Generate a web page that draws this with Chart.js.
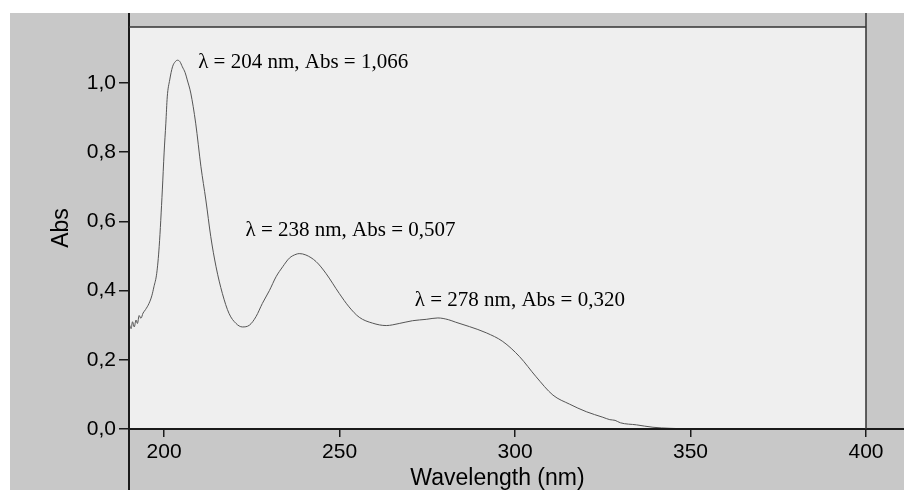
<!DOCTYPE html>
<html>
<head>
<meta charset="utf-8">
<script src="https://cdn.jsdelivr.net/npm/chart.js@4"></script>
<style>
  html, body { margin: 0; padding: 0; background: #ffffff; }
  #wrap { width: 904px; height: 490px; }
</style>
</head>
<body>
<div id="wrap"><canvas id="c" width="904" height="490"></canvas></div>
<script>
// ---- data ----
const wavelengths = [
  190.2, 190.6, 191.0, 191.5, 192.0, 192.4, 192.9, 193.4, 194.0, 194.7,
  195.7, 196.5, 197.1, 197.9, 198.6, 199.5, 200.0, 200.5, 200.9, 201.6,
  202.4, 203.2, 203.8, 204.5, 205.2, 206.0, 206.6, 207.6, 209.0, 210.5,
  211.9, 213.3, 214.8, 216.6, 218.5, 220.5, 222.3, 224.3, 226.2, 228.0,
  230.0, 231.9, 233.8, 235.7, 237.6, 238.5, 240.4, 243.3, 246.1, 249.9,
  252.7, 255.6, 259.4, 263.3, 267.0, 270.8, 274.7, 278.0, 281.0, 283.0,
  287.0, 291.8, 296.5, 301.3, 306.0, 310.8, 315.5, 320.3, 325.0, 327.0,
  328.5, 330.0, 334.6, 339.3, 344.1, 350.0
];
const absorbance = [
  0.300, 0.290, 0.310, 0.295, 0.315, 0.305, 0.328, 0.320, 0.335, 0.345,
  0.363, 0.385, 0.411, 0.450, 0.527, 0.691, 0.798, 0.884, 0.960, 1.009,
  1.047, 1.062, 1.066, 1.062, 1.047, 1.030, 1.009, 0.971, 0.884, 0.758,
  0.662, 0.556, 0.469, 0.392, 0.334, 0.305, 0.295, 0.300, 0.325, 0.363,
  0.400, 0.440, 0.469, 0.494, 0.505, 0.507, 0.503, 0.484, 0.450, 0.392,
  0.353, 0.323, 0.306, 0.299, 0.305, 0.313, 0.317, 0.321, 0.316, 0.309,
  0.296, 0.278, 0.253, 0.209, 0.151, 0.098, 0.072, 0.050, 0.034, 0.027,
  0.025, 0.018, 0.012, 0.005, 0.002, 0.000
];
const xTicks = [200, 250, 300, 350, 400];
const yTicks = [0.0, 0.2, 0.4, 0.6, 0.8, 1.0];
const peakNm = [204, 238, 278];
const peakAbs = [1.066, 0.507, 0.320];
const xTitle = 'Wavelength (nm)';
const yTitle = 'Abs';

const fmt = (v, d) => v.toFixed(d).replace('.', ',');
const peakLabels = peakNm.map((nm, i) => 'λ = ' + nm + ' nm, Abs = ' + fmt(peakAbs[i], 3));

const points = wavelengths.map((w, i) => ({ x: w, y: absorbance[i] }));

const framePlugin = {
  id: 'frame',
  beforeDraw(chart) {
    const { ctx, chartArea: a, width, height } = chart;
    ctx.save();
    ctx.fillStyle = '#ffffff';
    ctx.fillRect(0, 0, width, height);
    ctx.fillStyle = '#c8c8c8';
    ctx.fillRect(10, 13, width - 10, height - 13);
    ctx.fillStyle = '#efefef';
    ctx.fillRect(a.left, a.top, a.right - a.left, a.bottom - a.top);
    ctx.restore();
  },
  afterDraw(chart) {
    const { ctx, chartArea: a, width, height } = chart;
    ctx.save();
    ctx.strokeStyle = '#1a1a1a';
    ctx.lineWidth = 2;
    ctx.beginPath();
    ctx.moveTo(a.left, 13); ctx.lineTo(a.left, height);
    ctx.moveTo(a.left, a.bottom); ctx.lineTo(width, a.bottom);
    ctx.stroke();
    ctx.lineWidth = 1.5;
    ctx.strokeStyle = '#333';
    ctx.beginPath();
    ctx.moveTo(a.left, a.top); ctx.lineTo(a.right, a.top);
    ctx.moveTo(a.right, 13); ctx.lineTo(a.right, a.bottom);
    ctx.stroke();
    // peak annotations
    const xs = chart.scales.x, ys = chart.scales.y;
    const offs = [[20, 2], [-52, -23], [-23, -18]];
    ctx.fillStyle = '#000';
    ctx.font = '21px "Liberation Serif", "Times New Roman", serif';
    ctx.textBaseline = 'middle';
    ctx.textAlign = 'left';
    peakLabels.forEach((t, i) => {
      const px = xs.getPixelForValue(peakNm[i]) + offs[i][0];
      const py = ys.getPixelForValue(peakAbs[i]) + offs[i][1];
      ctx.fillText(t, px, py);
    });
    ctx.restore();
  }
};

new Chart(document.getElementById('c'), {
  type: 'line',
  data: {
    datasets: [{
      data: points,
      borderColor: '#555555',
      borderWidth: 1,
      pointRadius: 0,
      fill: false,
      cubicInterpolationMode: 'monotone'
    }]
  },
  options: {
    responsive: false,
    animation: false,
    events: [],
    layout: { padding: { left: 0, top: 27, right: 38, bottom: 0 } },
    plugins: { legend: { display: false }, tooltip: { enabled: false } },
    scales: {
      x: {
        type: 'linear',
        min: 190,
        max: 400,
        afterBuildTicks(s) { s.ticks = xTicks.map(v => ({ value: v })); },
        afterFit(s) { s.height = 61; },
        grid: { drawOnChartArea: false, drawTicks: true, tickLength: 8, color: '#1a1a1a', lineWidth: 1.5 },
        border: { display: false },
        ticks: {
          color: '#000',
          padding: 3,
          maxRotation: 0,
          font: { family: '"Liberation Sans", Arial, sans-serif', size: 21 },
          callback: v => String(v)
        },
        title: {
          display: true,
          text: xTitle,
          color: '#000',
          padding: 0,
          font: { family: '"Liberation Sans", Arial, sans-serif', size: 23, lineHeight: 1 }
        }
      },
      y: {
        type: 'linear',
        min: 0,
        max: 1.162,
        afterBuildTicks(s) { s.ticks = yTicks.map(v => ({ value: v })); },
        afterFit(s) { s.width = 129; },
        grid: { drawOnChartArea: false, drawTicks: true, tickLength: 10, color: '#1a1a1a', lineWidth: 1.5 },
        border: { display: false },
        ticks: {
          color: '#000',
          padding: 3,
          font: { family: '"Liberation Sans", Arial, sans-serif', size: 21 },
          callback: v => fmt(v, 1)
        },
        title: {
          display: true,
          text: yTitle,
          color: '#000',
          padding: { top: 50, bottom: 0 },
          font: { family: '"Liberation Sans", Arial, sans-serif', size: 23, lineHeight: 1 }
        }
      }
    }
  },
  plugins: [framePlugin]
});
</script>
</body>
</html>
